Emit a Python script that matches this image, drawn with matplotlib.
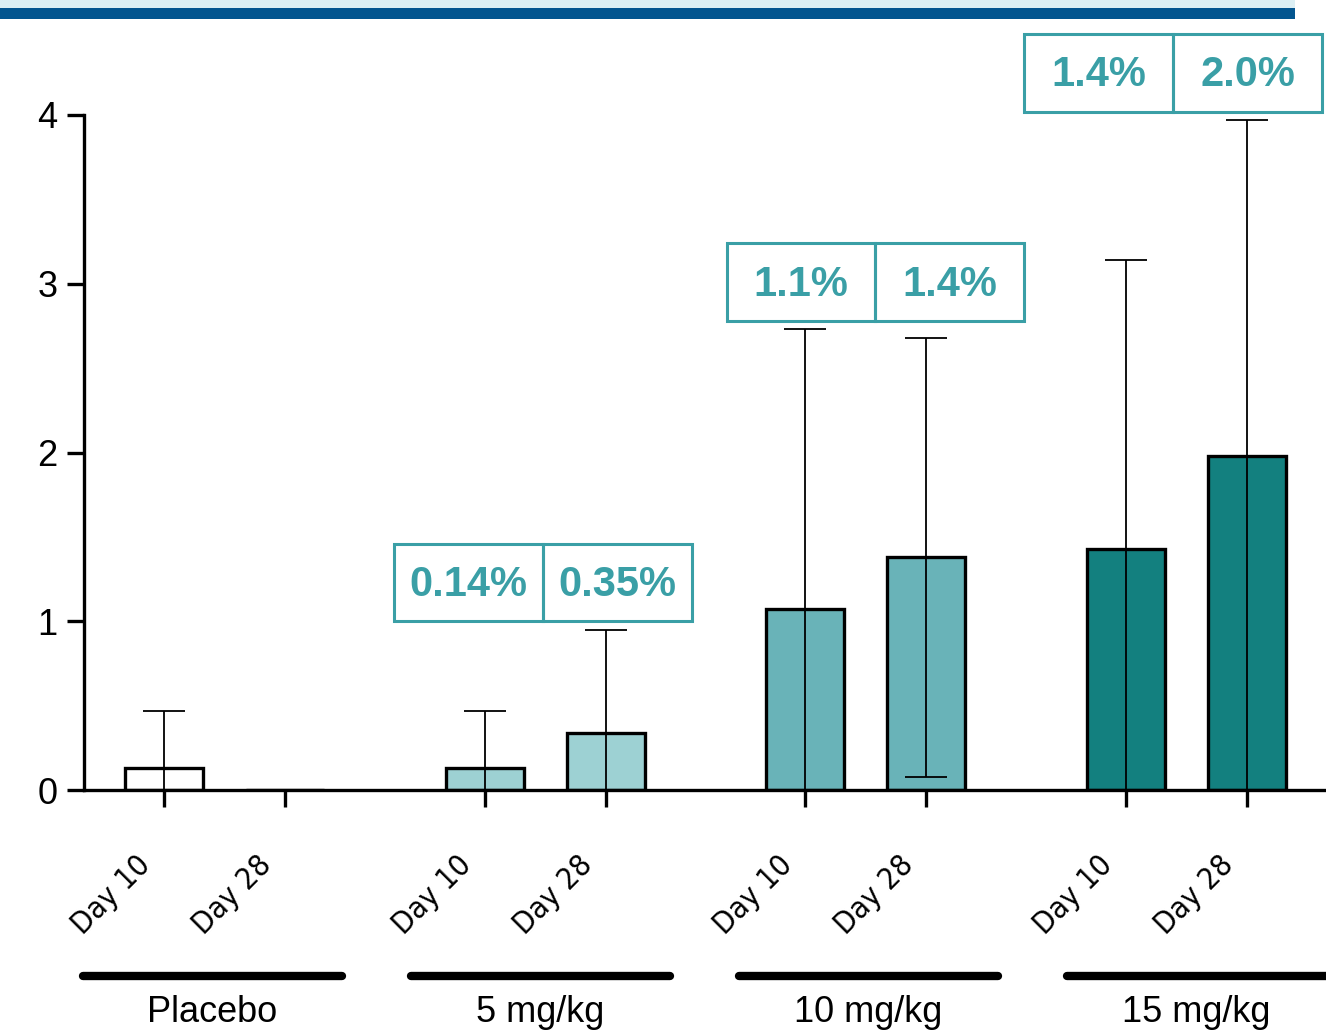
import matplotlib
matplotlib.use("Agg")
import matplotlib.pyplot as plt
from matplotlib import font_manager
from matplotlib.font_manager import FontProperties
from matplotlib.transforms import ScaledTranslation
from matplotlib.patches import Rectangle
from matplotlib.lines import Line2D
import os

groups = ["Placebo", "5 mg/kg", "10 mg/kg", "15 mg/kg"]
days = ["Day 10", "Day 28"]
values = [[0.13, 0.0], [0.13, 0.34], [1.07, 1.38], [1.43, 1.98]]
errors = [[0.34, 0.0], [0.34, 0.61], [1.66, 1.30], [1.71, 1.99]]
pct_labels = [None, ["0.14%", "0.35%"], ["1.1%", "1.4%"], ["1.4%", "2.0%"]]
box_shift = [0.0, -0.02, 0.08, -0.11]
colors = ["#ffffff", "#9dd1d3", "#69b3b8", "#13807f"]

plt.rcParams["font.family"] = ["Liberation Sans", "DejaVu Sans"]

# find a condensed face for the day labels
narrow_fp = None
for f in font_manager.fontManager.ttflist:
    base = os.path.basename(f.fname)
    if base in ("LiberationSansNarrow-Regular.ttf",):
        narrow_fp = FontProperties(fname=f.fname, size=24)
        break
if narrow_fp is None:
    for f in font_manager.fontManager.ttflist:
        if os.path.basename(f.fname) == "DejaVuSansCondensed.ttf":
            narrow_fp = FontProperties(fname=f.fname, size=22)
            break
if narrow_fp is None:
    narrow_fp = FontProperties(family="Liberation Sans", size=22)

W, H = 1326, 1034
fig = plt.figure(figsize=(W / 100, H / 100), dpi=100)

# top banner
fig.patches.append(Rectangle((0, 1 - 8 / H), 1295 / W, 8 / H, transform=fig.transFigure,
                             facecolor="#dceff4", edgecolor="none"))
fig.patches.append(Rectangle((0, 1 - 19 / H), 1295 / W, 11 / H, transform=fig.transFigure,
                             facecolor="#03558f", edgecolor="none"))

ax_l, ax_r, ax_b, ax_t = 84, 1326, 790, 115
ax = fig.add_axes([ax_l / W, 1 - ax_b / H, (ax_r - ax_l) / W, (ax_b - ax_t) / H])

gap = 2.65
width = 0.645
pos = []
for g in range(len(groups)):
    for d in range(2):
        x = g * gap + d
        pos.append(x)
        v = values[g][d]
        e = errors[g][d]
        ax.bar(x, v, width=width, color=colors[g], edgecolor="black", linewidth=2.4, zorder=2)
        if e > 0:
            ax.errorbar(x, v, yerr=e, fmt="none", ecolor="black", elinewidth=1.3,
                        capsize=15, capthick=1.3, zorder=3)

x0 = (ax_l - 164) / 121
x1 = (ax_r - 164) / 121
ax.set_xlim(x0, x1)
ax.set_ylim(0, 4)
ax.set_yticks([0, 1, 2, 3, 4])
ax.set_yticklabels(["0", "1", "2", "3", "4"], fontsize=26)
ax.set_xticks(pos)
ax.set_xticklabels(days * len(groups), rotation=45, ha="right", rotation_mode="anchor",
                   fontproperties=narrow_fp)
ax.tick_params(axis="y", length=12, width=2.4, pad=7)
ax.tick_params(axis="x", length=12, width=2.4, pad=22)
off = ScaledTranslation(-28 / 100, -13 / 100, fig.dpi_scale_trans)
for lab in ax.get_xticklabels():
    lab.set_transform(lab.get_transform() + off)
for s in ["top", "right"]:
    ax.spines[s].set_visible(False)
ax.spines["left"].set_linewidth(2.4)
ax.spines["bottom"].set_linewidth(2.4)

# annotation boxes
teal = "#3a9fa6"
for g in range(len(groups)):
    if pct_labels[g] is None:
        continue
    mid = g * gap + 0.5 + box_shift[g]
    top = max(values[g][d] + errors[g][d] for d in range(2))
    yb = top + 0.05
    hgt = 0.46
    half = 1.23
    for d in range(2):
        xl = mid - half + d * half
        ax.add_patch(Rectangle((xl, yb), half, hgt, facecolor="none", edgecolor=teal,
                               linewidth=2.2, clip_on=False, zorder=4))
        ax.text(xl + half / 2, yb + hgt / 2 - 0.015, pct_labels[g][d], color=teal, fontsize=30,
                fontweight="bold", ha="center", va="center", clip_on=False, zorder=5)

# group lines and labels
trans = ax.get_xaxis_transform()
yline = (ax_b - 976) / (ax_b - ax_t)
ylab = (ax_b - 995) / (ax_b - ax_t)
gline_gap = 2.71
for g, name in enumerate(groups):
    mid = 0.40 + g * gline_gap
    ax.add_line(Line2D([mid - 1.07, mid + 1.07], [yline, yline], transform=trans, color="black",
                       linewidth=6, solid_capstyle="round", clip_on=False))
    ax.text(mid, ylab, name, transform=trans, ha="center", va="top", fontsize=26,
            clip_on=False)

fig.savefig("out.png", dpi=100)
